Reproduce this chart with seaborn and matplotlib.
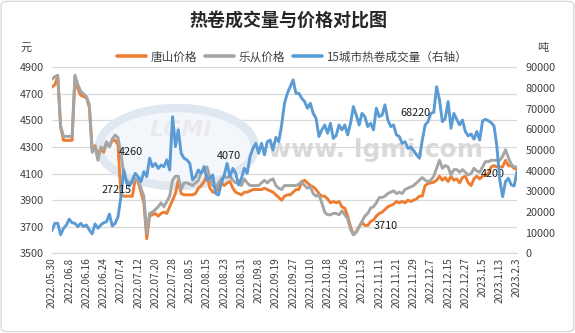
import numpy as np
import pandas as pd
import matplotlib
matplotlib.use("Agg")
import matplotlib.pyplot as plt
from matplotlib.patches import Ellipse, FancyBboxPatch
from matplotlib.lines import Line2D
import seaborn as sns

# ---- data -------------------------------------------------------------
tick_labels = ["2022.05.30", "2022.06.8", "2022.06.16", "2022.06.24", "2022.07.4",
               "2022.07.12", "2022.07.20", "2022.07.28", "2022.08.5", "2022.08.15",
               "2022.08.23", "2022.08.31", "2022.09.8", "2022.09.19", "2022.09.27",
               "2022.10.10", "2022.10.18", "2022.10.26", "2022.11.3", "2022.11.11",
               "2022.11.21", "2022.11.29", "2022.12.7", "2022.12.15", "2022.12.27",
               "2023.1.5", "2023.1.13", "2023.2.3"]

# 唐山价格 (元)
tangshan = [4750, 4770, 4830, 4450, 4350, 4350, 4350, 4350, 4830, 4740,
            4690, 4680, 4670, 4600, 4280, 4310, 4230, 4290, 4260, 4330,
            4310, 4350, 4350, 4320, 3940, 3930, 3930, 3930, 3930, 4060,
            4040, 3960, 3880, 3610, 3780, 3790, 3800, 3780, 3800, 3810,
            3800, 3850, 3900, 3950, 4050, 3950, 3940, 3940, 3940, 3940,
            3950, 3990, 4010, 4040, 4090, 3990, 3960, 3960, 4000, 4030,
            4010, 4030, 4040, 3990, 3960, 3950, 3940, 3960, 3960, 3970,
            3980, 3980, 3980, 3980, 3990, 3980, 3970, 3960, 3940, 3920,
            3900, 3930, 3940, 3940, 3960, 3980, 3980, 4040, 4050, 4030,
            4010, 4000, 3980, 3950, 3930, 3930, 3910, 3880, 3890, 3880,
            3890, 3850, 3840, 3780, 3700, 3640, 3660, 3700, 3730, 3710,
            3710, 3740, 3750, 3780, 3800, 3810, 3830, 3850, 3860, 3870,
            3890, 3880, 3890, 3880, 3900, 3890, 3900, 3910, 3930, 3930,
            4010, 4025, 4030, 4035, 4050, 4080, 4050, 4070, 4040, 4080,
            4050, 4060, 4030, 4070, 4080, 4030, 4010, 4060, 4080, 4060,
            4080, 4090, 4100, 4150, 4160, 4150, 4150, 4150, 4200, 4160,
            4160, 4140, 4130]

# 乐从价格 (元)
lecong = [4810, 4830, 4840, 4460, 4380, 4380, 4380, 4380, 4840, 4770,
          4720, 4700, 4680, 4620, 4260, 4300, 4200, 4300, 4280, 4340,
          4300, 4360, 4390, 4370, 4250, 4100, 4050, 4030, 4030, 4060,
          4050, 3990, 3930, 3650, 3800, 3810, 3830, 3850, 3880, 3850,
          3890, 3930, 4050, 4080, 4080, 3980, 4030, 4030, 4020, 4010,
          4030, 4050, 4110, 4130, 4150, 4070, 4010, 3990, 4030, 4060,
          4080, 4070, 4080, 4050, 4030, 4030, 4010, 4060, 4030, 4010,
          4010, 4010, 4010, 4030, 4050, 4030, 4050, 4060, 4010, 3990,
          3980, 4010, 4010, 4010, 4010, 4010, 4020, 4040, 4010, 3990,
          4000, 3950, 3930, 3940, 3880, 3810, 3790, 3790, 3800, 3800,
          3790, 3820, 3790, 3760, 3680, 3640, 3660, 3700, 3740, 3780,
          3800, 3840, 3850, 3880, 3920, 3920, 3930, 3950, 3960, 3970,
          3950, 3960, 3950, 3980, 3990, 4000, 4010, 4030, 4050, 4070,
          4050, 4040, 4050, 4080, 4140, 4200, 4140, 4160, 4150, 4090,
          4130, 4130, 4110, 4130, 4110, 4090, 4100, 4140, 4120, 4110,
          4150, 4190, 4190, 4200, 4200, 4200, 4200, 4230, 4280, 4220,
          4170, 4150, 4150]

# 15城市热卷成交量 (吨, 右轴)
volume = [11000, 14500, 14500, 9000, 12000, 13700, 16500, 14800, 14500, 12900,
          14500, 12900, 13700, 11300, 9400, 14200, 12100, 13700, 14800, 15300,
          19000, 13200, 14500, 17700, 27215, 40300, 33900, 32600, 35500, 38700,
          37100, 34700, 39500, 37100, 46000, 41900, 43500, 41100, 42700, 41900,
          45200, 40300, 66100, 51600, 59700, 48400, 46000, 45200, 43500, 35500,
          37100, 40300, 38700, 41900, 35500, 36300, 37900, 29000, 28200, 33900,
          37900, 43500, 37100, 41100, 38700, 33100, 36300, 41100, 38700, 46800,
          50800, 53200, 48400, 53200, 47600, 54000, 54800, 50000, 56100, 54000,
          62100, 72600, 77400, 80600, 83900, 77400, 77400, 75000, 73400, 70200,
          72600, 67700, 65300, 56500, 59700, 62100, 58100, 62900, 55600, 57000,
          62100, 59700, 62100, 57300, 62900, 71000, 66900, 62100, 67700, 66100,
          61300, 62900, 59700, 70200, 66100, 66900, 71800, 64500, 61300, 62100,
          57300, 56500, 53200, 54000, 50800, 51300, 49700, 47600, 46000, 54800,
          62100, 63700, 67700, 68220, 80600, 74200, 63700, 65300, 73400, 60500,
          67700, 64800, 62100, 64500, 58900, 56800, 57700, 55200, 58900, 54800,
          64000, 64800, 64200, 63200, 61600, 51600, 35500, 27400, 34700, 36300,
          33100, 32600, 39500]

# ---- style ------------------------------------------------------------
ORANGE, GRAY, BLUE = "#ED7D31", "#A5A5A5", "#5B9BD5"
TXT = "#404040"
sns.set_theme(style="white")
plt.rcParams["font.family"] = ["Noto Sans CJK SC", "DejaVu Sans"]
plt.rcParams["axes.unicode_minus"] = False

W, H = 575, 333
fig = plt.figure(figsize=(W / 100, H / 100), dpi=100)
fig.patch.set_facecolor("white")


def fx(px):
    return px / W


def fy(py):
    return 1 - py / H


ax = fig.add_axes([fx(52), fy(253.3), fx(517) - fx(52), fy(67.3) - fy(253.3)])
ax2 = ax.twinx()

df = pd.DataFrame({"idx": np.arange(len(tangshan)),
                   "tangshan": tangshan, "lecong": lecong, "volume": volume})

# faint site watermark behind the lines
ax.add_patch(Ellipse((fx(177), fy(147)), fx(156), 78 / H, transform=fig.transFigure,
                     facecolor="#f3f6fa", edgecolor="#dfe7f1", linewidth=6, zorder=1))
ax.text(fx(181), fy(130), "LGMI", transform=fig.transFigure, ha="center", va="center",
        fontsize=16, fontweight="bold", fontstyle="italic", color="#e9e9ee", zorder=1.1,
        family="DejaVu Sans")
ax.text(fx(375), fy(150), "www. lgmi.com", transform=fig.transFigure, ha="center",
        va="center", fontsize=18, fontweight="bold", color="#d9d9d9", zorder=1.1,
        family="DejaVu Sans")

sns.lineplot(data=df, x="idx", y="tangshan", ax=ax, color=ORANGE, linewidth=2.1, zorder=3)
sns.lineplot(data=df, x="idx", y="lecong", ax=ax, color=GRAY, linewidth=2.1, zorder=3)
sns.lineplot(data=df, x="idx", y="volume", ax=ax2, color=BLUE, linewidth=2.1, zorder=3)

ax.set_xlim(0, len(tangshan) - 1)
ax.set_ylim(3500, 4900)
ax.set_yticks(np.arange(3500, 4901, 200))
ax2.set_ylim(0, 90000)
ax2.set_yticks(np.arange(0, 90001, 10000))
ax.set_xticks(np.arange(0, len(tangshan), 6))
ax.set_xticklabels(tick_labels, rotation=90, ha="center", va="top")

for a in (ax, ax2):
    a.set_xlabel("")
    a.set_ylabel("")
    for s in a.spines.values():
        s.set_visible(False)
ax.spines["bottom"].set_visible(True)
ax.spines["bottom"].set_color("#d9d9d9")
ax.spines["bottom"].set_linewidth(0.9)

ax.grid(axis="y", color="#d9d9d9", linewidth=0.9)
ax.grid(axis="x", visible=False)
ax2.grid(False)
ax.set_axisbelow(True)

ax.tick_params(axis="y", length=0, pad=6, labelsize=7.8, labelcolor=TXT)
ax.tick_params(axis="x", length=0, pad=3, labelsize=7.3, labelcolor=TXT)
ax2.tick_params(axis="y", length=0, pad=6, labelsize=7.8, labelcolor=TXT)

# data labels
lab = dict(fontsize=7.8, color="#1a1a1a", ha="center", va="center", zorder=5,
           textcoords="offset points")
ax.annotate("4260", xy=(18, tangshan[18]), xytext=(19.5, 0), **lab)
ax2.annotate("27215", xy=(24, volume[24]), xytext=(-3, 5), **lab)
ax.annotate("4070", xy=(61, lecong[61]), xytext=(1.5, 15.5), **lab)
ax2.annotate("68220", xy=(133, volume[133]), xytext=(-13.5, -0.5), **lab)
ax.annotate("3710", xy=(110, tangshan[110]), xytext=(13.2, -0.4), **lab)
ax.annotate("4200", xy=(158, tangshan[158]), xytext=(-9, -9.6), **lab)

# title, units, legend
fig.text(fx(288), fy(21), "热卷成交量与价格对比图", ha="center", va="center",
         fontsize=13, fontweight="bold", color="#262626")
fig.text(fx(26), fy(48), "元", ha="center", va="center", fontsize=8, color=TXT)
fig.text(fx(543), fy(48), "吨", ha="center", va="center", fontsize=8, color=TXT)

handles = [Line2D([], [], color=ORANGE, linewidth=2.6),
           Line2D([], [], color=GRAY, linewidth=2.6),
           Line2D([], [], color=BLUE, linewidth=2.6)]
labels = ["唐山价格", "乐从价格", "15城市热卷成交量（右轴）"]
fig.legend(handles, labels, loc="center", bbox_to_anchor=(fx(292), fy(57)), ncol=3,
           frameon=False, fontsize=8.4, handlelength=2.5, handletextpad=0.35,
           columnspacing=0.7, labelcolor=TXT)

fig.patches.append(FancyBboxPatch((0.002, 0.004), 0.996, 0.992,
                                  boxstyle="round,pad=0,rounding_size=0.012",
                                  transform=fig.transFigure, fill=False,
                                  edgecolor="#d9d9d9", linewidth=1.0))

fig.savefig("out.png", dpi=100)
